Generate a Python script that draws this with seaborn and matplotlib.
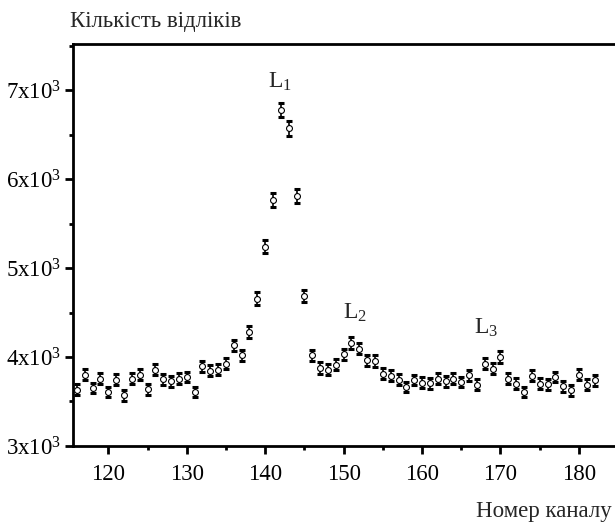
import numpy as np
import pandas as pd
import seaborn as sns
import matplotlib.pyplot as plt
from matplotlib.ticker import MultipleLocator, FixedLocator, FuncFormatter

# counts per channel
channels = list(range(116, 183))
counts = [3633, 3802, 3651, 3757, 3606, 3746, 3569, 3757, 3802, 3637,
          3858, 3749, 3727, 3757, 3775, 3606, 3895, 3843, 3858, 3925,
          4132, 4019, 4281, 4657, 5237, 5763, 6775, 6569, 5811, 4686,
          4019, 3876, 3858, 3914, 4030, 4157, 4094, 3963, 3955, 3813,
          3787, 3746, 3663, 3742, 3712, 3704, 3757, 3727, 3757, 3719,
          3794, 3689, 3925, 3869, 4000, 3757, 3700, 3606, 3787, 3700,
          3693, 3775, 3670, 3625, 3802, 3689, 3738]

peak_names = ['L_1', 'L_2', 'L_3']
peak_x = [141.9, 151.4, 168.2]
peak_y = [7090, 4500, 4330]

y_ticks = [3000, 4000, 5000, 6000, 7000]

df = pd.DataFrame({'channel': channels, 'counts': counts})
df['err'] = np.sqrt(df['counts'])  # Poisson error

sns.set_theme(style='ticks')
plt.rcParams['font.family'] = ['Liberation Serif', 'DejaVu Serif']
plt.rcParams['mathtext.fontset'] = 'custom'
plt.rcParams['mathtext.rm'] = 'Liberation Serif'
plt.rcParams['mathtext.it'] = 'Liberation Serif:italic'

fig = plt.figure(figsize=(6.15, 5.26), dpi=100)
ax = fig.add_axes([0.1182, 0.1521, 0.8818, 0.7637])

ax.errorbar(df['channel'], df['counts'], yerr=df['err'], fmt='none',
            ecolor='black', elinewidth=1.2, capsize=2.3, capthick=2.2, zorder=2)
sns.scatterplot(data=df, x='channel', y='counts', ax=ax, marker='o', s=18,
                color='white', edgecolor='black', linewidth=0.8, zorder=3)

for name, px, py in zip(peak_names, peak_x, peak_y):
    ax.text(px, py, r'$\mathrm{%s}$' % name, fontsize=17, ha='center', va='center')

ax.set_xlim(115.46, 184.6)
ax.set_ylim(3000, 7514)
ax.xaxis.set_major_locator(MultipleLocator(10))
ax.xaxis.set_minor_locator(MultipleLocator(5))
ax.yaxis.set_major_locator(FixedLocator(y_ticks))
ax.yaxis.set_minor_locator(MultipleLocator(500))
ax.yaxis.set_major_formatter(FuncFormatter(
    lambda v, p: r'$\mathrm{%dx10^{3}}$' % round(v / 1000)))

ax.set_xlabel('')
ax.set_ylabel('')
for s in ['left', 'top', 'bottom']:
    ax.spines[s].set_linewidth(2)
    ax.spines[s].set_color('black')
ax.spines['right'].set_visible(False)

ax.tick_params(which='major', direction='out', length=6, width=2,
               labelsize=16.5, colors='black', pad=3)
ax.tick_params(which='minor', direction='out', length=3, width=2, colors='black')
ax.tick_params(axis='x', which='major', pad=7)
ax.tick_params(axis='y', which='major', pad=2)

fig.text(70 / 615, 1 - 21 / 526, 'Кількість відліків', fontsize=16.5,
         ha='left', va='center')
fig.text(612 / 615, 1 - 512 / 526, 'Номер каналу', fontsize=16.5,
         ha='right', va='center')

fig.savefig('out.png', dpi=100)
